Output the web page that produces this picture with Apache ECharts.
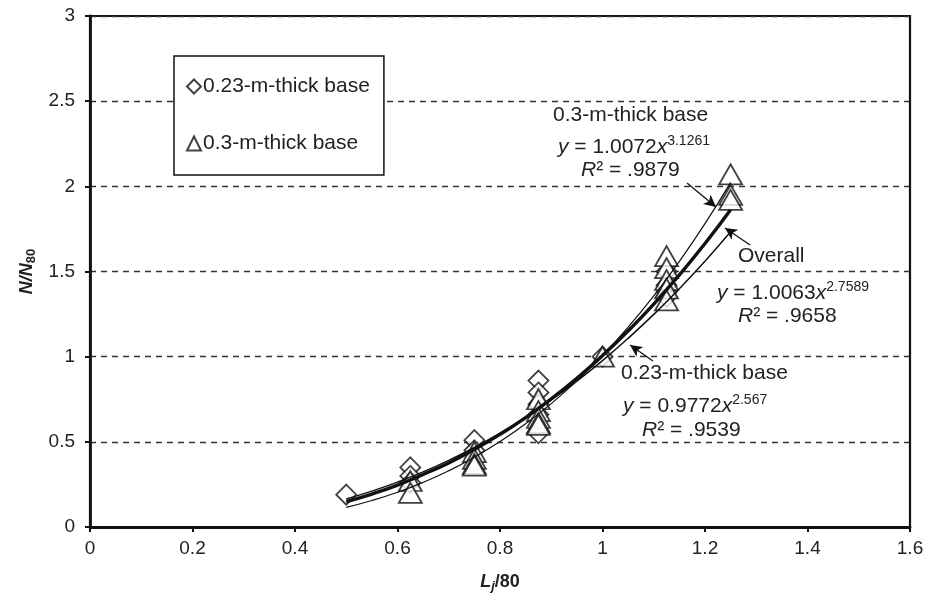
<!DOCTYPE html>
<html>
<head>
<meta charset="utf-8">
<script src="https://cdn.jsdelivr.net/npm/echarts@6/dist/echarts.min.js"></script>
<style>html,body{margin:0;padding:0;background:#fff}#c{width:932px;height:604px}</style>
</head>
<body>
<div id="c"></div>
<script>
// Measured points: [Lj/80, N/N80]
const base023 = [
  [0.5, 0.19],
  [0.625, 0.35], [0.625, 0.30], [0.625, 0.26],
  [0.75, 0.51], [0.75, 0.45],
  [0.875, 0.86], [0.875, 0.79], [0.875, 0.72], [0.875, 0.66], [0.875, 0.55],
  [1.0, 1.0],
  [1.125, 1.50], [1.125, 1.42], [1.125, 1.38], [1.125, 1.35]
];
const base03 = [
  [0.625, 0.27], [0.625, 0.20],
  [0.75, 0.44], [0.75, 0.40], [0.75, 0.37], [0.75, 0.36],
  [0.875, 0.75], [0.875, 0.68], [0.875, 0.64], [0.875, 0.61], [0.875, 0.60],
  [1.0, 1.0],
  [1.125, 1.59], [1.125, 1.52], [1.125, 1.45], [1.125, 1.40], [1.125, 1.33],
  [1.25, 2.07], [1.25, 1.95], [1.25, 1.92]
];
// Trend line values read along x
const fitX = [0.5, 0.55, 0.6, 0.65, 0.7, 0.75, 0.8, 0.85, 0.9, 0.95, 1.0, 1.05, 1.1, 1.15, 1.2, 1.25];
const fit03 = [0.1154, 0.1554, 0.2040, 0.2620, 0.3303, 0.4098, 0.5014, 0.6060, 0.7245, 0.8580, 1.0072, 1.1732, 1.3568, 1.5591, 1.7809, 2.0234];
const fitAll = [0.1487, 0.1934, 0.2458, 0.3086, 0.3761, 0.4550, 0.5437, 0.6427, 0.7525, 0.8735, 1.0063, 1.1513, 1.3089, 1.4798, 1.6641, 1.8625];
const fit023 = [0.1649, 0.2106, 0.2633, 0.3234, 0.3912, 0.4669, 0.5511, 0.6438, 0.7456, 0.8567, 0.9772, 1.1076, 1.2481, 1.3989, 1.5604, 1.7328];
const xTicks = ['0', '0.2', '0.4', '0.6', '0.8', '1', '1.2', '1.4', '1.6'];
const yTicks = ['0', '0.5', '1', '1.5', '2', '2.5', '3'];
const seriesNames = ['0.23-m-thick base', '0.3-m-thick base'];

const FONT = '"Liberation Sans", Arial, sans-serif';
const chart = echarts.init(document.getElementById('c'), null, {renderer: 'canvas'});
const zip = (xs, ys) => xs.map((x, i) => [x, ys[i]]);

const FS = 21;
const rich = {
  n: {fontFamily: FONT, fontSize: FS, color: '#222'},
  i: {fontFamily: FONT, fontSize: FS, fontStyle: 'italic', color: '#222'},
  sup: {fontFamily: FONT, fontSize: 14, color: '#222', verticalAlign: 'top', padding: [0, 0, 12, 0]}
};
// annotation: left x, vertical centre y
function txt(left, cy, content) {
  return {type: 'text', left: left, top: cy - 12, style: {text: content, rich: rich, font: FS + 'px ' + FONT, fill: '#222'}};
}

const option = {
  backgroundColor: '#fff',
  animation: false,
  grid: {left: 90, right: 22, top: 16, bottom: 77, show: true, borderColor: '#111', borderWidth: 2.2, backgroundColor: 'transparent'},
  xAxis: {
    type: 'value', min: 0, max: 1.6, interval: 0.2,
    axisLine: {show: true, lineStyle: {color: '#111', width: 2.8}},
    axisTick: {show: true, length: 5, lineStyle: {color: '#111', width: 2}},
    splitLine: {show: false},
    axisLabel: {fontFamily: FONT, fontSize: 19, color: '#222', margin: 12,
      formatter: (v) => xTicks[Math.round(v / 0.2)]},
    name: '{b|L}{bs|j}{b2|/80}', nameLocation: 'middle', nameGap: 44,
    nameTextStyle: {rich: {
      b: {fontFamily: FONT, fontSize: 18, fontWeight: 'bold', fontStyle: 'italic', color: '#222'},
      bs: {fontFamily: FONT, fontSize: 13, fontWeight: 'bold', fontStyle: 'italic', color: '#222', verticalAlign: 'bottom', padding: [9, 0, 0, 0]},
      b2: {fontFamily: FONT, fontSize: 18, fontWeight: 'bold', color: '#222'}
    }}
  },
  yAxis: {
    type: 'value', min: 0, max: 3, interval: 0.5,
    axisLine: {show: true, lineStyle: {color: '#111', width: 2.8}},
    axisTick: {show: true, length: 5, lineStyle: {color: '#111', width: 2}},
    splitLine: {show: true, lineStyle: {color: '#333', type: [6, 5], width: 1.3}},
    axisLabel: {fontFamily: FONT, fontSize: 19, color: '#222', margin: 15,
      formatter: (v) => yTicks[Math.round(v / 0.5)]},
    name: '{b|N/N}{bs|80}', nameLocation: 'middle', nameGap: 42, nameRotate: 90,
    nameTextStyle: {rich: {
      b: {fontFamily: FONT, fontSize: 18, fontWeight: 'bold', fontStyle: 'italic', color: '#222'},
      bs: {fontFamily: FONT, fontSize: 13, fontWeight: 'bold', color: '#222', verticalAlign: 'bottom', padding: [9, 0, 0, 0]}
    }}
  },
  legend: {
    data: [{name: seriesNames[0], icon: 'diamond'}, {name: seriesNames[1], icon: 'triangle'}],
    orient: 'vertical', left: 174, top: 56,
    backgroundColor: '#fff', borderColor: '#111', borderWidth: 1.5,
    padding: [20, 14, 21, 12], itemGap: 36, itemWidth: 14, itemHeight: 14,
    textStyle: {fontFamily: FONT, fontSize: FS, color: '#222', padding: [0, 0, 0, -3]},
    selectedMode: false
  },
  series: [
    {name: seriesNames[0], type: 'scatter', data: base023, symbol: 'diamond', symbolSize: [20, 20], z: 3,
      itemStyle: {color: '#fff', borderColor: '#111', borderWidth: 1.8}},
    {name: seriesNames[1], type: 'scatter', data: base03, symbol: 'triangle', symbolSize: [23, 20], z: 3,
      itemStyle: {color: '#fff', borderColor: '#111', borderWidth: 1.8}},
    {name: 'fit03', type: 'line', data: zip(fitX, fit03), showSymbol: false, smooth: true, z: 5,
      lineStyle: {color: '#111', width: 1.2}},
    {name: 'fit023', type: 'line', data: zip(fitX, fit023), showSymbol: false, smooth: true, z: 5,
      lineStyle: {color: '#111', width: 1.5}},
    {name: 'fitAll', type: 'line', data: zip(fitX, fitAll), showSymbol: false, smooth: true, z: 6,
      lineStyle: {color: '#111', width: 3.4}},
    {name: 'arrows', type: 'line', data: [], z: 7,
      markLine: {silent: true, symbol: ['none', 'arrow'], symbolSize: [9, 12], label: {show: false},
        lineStyle: {color: '#111', width: 1.3, type: 'solid'},
        data: [
          [{coord: [1.165, 2.02]}, {coord: [1.2215, 1.879]}],
          [{coord: [1.288, 1.656]}, {coord: [1.239, 1.755]}],
          [{coord: [1.0985, 0.975]}, {coord: [1.0537, 1.0685]}]
        ]}}
  ],
  graphic: [
    txt(553, 117, '{n|0.3-m-thick base}'),
    txt(558, 146, '{i|y}{n| = 1.0072}{i|x}{sup|3.1261}'),
    txt(581, 172, '{i|R}{n|² = .9879}'),
    txt(738, 258, '{n|Overall}'),
    txt(717, 292, '{i|y}{n| = 1.0063}{i|x}{sup|2.7589}'),
    txt(738, 318, '{i|R}{n|² = .9658}'),
    txt(621, 375, '{n|0.23-m-thick base}'),
    txt(623, 405, '{i|y}{n| = 0.9772}{i|x}{sup|2.567}'),
    txt(642, 432, '{i|R}{n|² = .9539}')
  ]
};
chart.setOption(option);
</script>
</body>
</html>
